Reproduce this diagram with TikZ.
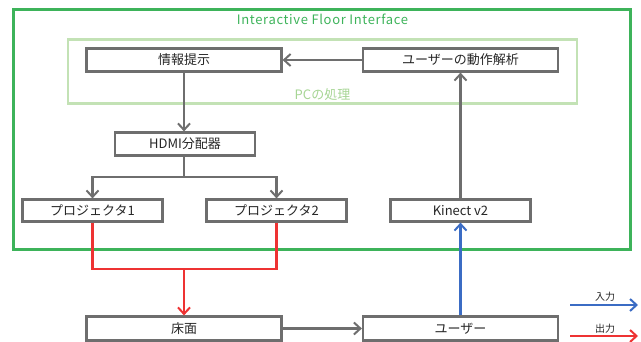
\documentclass[tikz,border=0pt]{standalone}
\usepackage{fontspec}
\setmainfont{Noto Sans CJK JP}
\usetikzlibrary{arrows.meta}
\definecolor{boxgray}{HTML}{6E6E6E}
\definecolor{outgreen}{HTML}{3DB35A}
\definecolor{pcgreen}{HTML}{C3E2B5}
\definecolor{pctext}{HTML}{A6D594}
\definecolor{outred}{HTML}{EE3333}
\definecolor{inblue}{HTML}{3B6CC4}
\tikzset{
  box/.style={draw=boxgray, line width=2.2pt, fill=white, inner sep=0pt,
    font=\fontsize{13}{15}\selectfont, text=black!85},
  widebox/.style={box, minimum width=195pt, minimum height=23pt},
  narrowbox/.style={box, minimum width=140pt, minimum height=22pt},
  tip/.style={-{Straight Barb[length=6.5pt,width=12pt,line width=2pt]}},
  gline/.style={draw=boxgray, line width=2.2pt},
  rline/.style={draw=outred, line width=2.2pt},
  bline/.style={draw=inblue, line width=2.2pt},
}
\begin{document}
\begin{tikzpicture}[x=1pt,y=-1pt]
\useasboundingbox (0,0) rectangle (641,342);
% frames
\draw[outgreen, line width=2.2pt] (13.5,9.5) rectangle (630.5,249.5);
\node[text=outgreen, font=\fontsize{13}{15}\selectfont\addfontfeatures{LetterSpace=5}] (title) at (322.5,19) {Interactive Floor Interface};
\draw[pcgreen, line width=2.2pt] (68,39.5) rectangle (577,103.5);
\node[text=pctext, font=\fontsize{13}{15}\selectfont] (pclabel) at (322.5,94.5) {PCの処理};
% boxes
\node[widebox] (info) at (184,60) {情報提示};
\node[widebox] (ana) at (460.5,60) {ユーザーの動作解析};
\node[narrowbox, minimum height=23pt] (hdmi) at (185,144) {HDMI分配器};
\node[narrowbox] (p1) at (92.5,210.5) {プロジェクタ1};
\node[narrowbox] (p2) at (276.5,210.5) {プロジェクタ2};
\node[narrowbox] (kin) at (460.5,210.5) {Kinect v2};
\node[widebox, minimum height=24pt] (floor) at (184,328.5) {床面};
\node[widebox, minimum height=24pt] (user) at (460.5,328.5) {ユーザー};
% gray connectors
\draw[gline, tip] (ana.west) -- (info.east);
\draw[gline, tip] (info.south) -- (info.south |- hdmi.north);
\coordinate (split) at (184,177);
\draw[gline] (info.south |- hdmi.south) -- (split);
\draw[gline, tip] (split) -| (p1.north);
\draw[gline, tip] (split) -| (p2.north);
\draw[gline, tip] (kin.north) -- (ana.south);
\draw[gline, tip] (floor.east) -- (user.west);
% red
\coordinate (merge) at (184,269);
\draw[rline] (p1.south) |- (merge);
\draw[rline] (p2.south) |- (merge);
\draw[rline, tip] (merge) -- (floor.north);
% blue
\draw[bline, tip] (user.north) -- (kin.south);
% legend
\coordinate (inA) at (570,305);
\coordinate (inB) at (638,305);
\coordinate (outA) at (570,336);
\coordinate (outB) at (638,336);
\draw[bline, tip] (inA) -- (inB);
\draw[rline, tip] (outA) -- (outB);
\node[font=\fontsize{10}{11}\selectfont, text=black!85] (inlabel) at (605,297) {入力};
\node[font=\fontsize{10}{11}\selectfont, text=black!85] (outlabel) at (605,328.5) {出力};
\end{tikzpicture}
\end{document}
